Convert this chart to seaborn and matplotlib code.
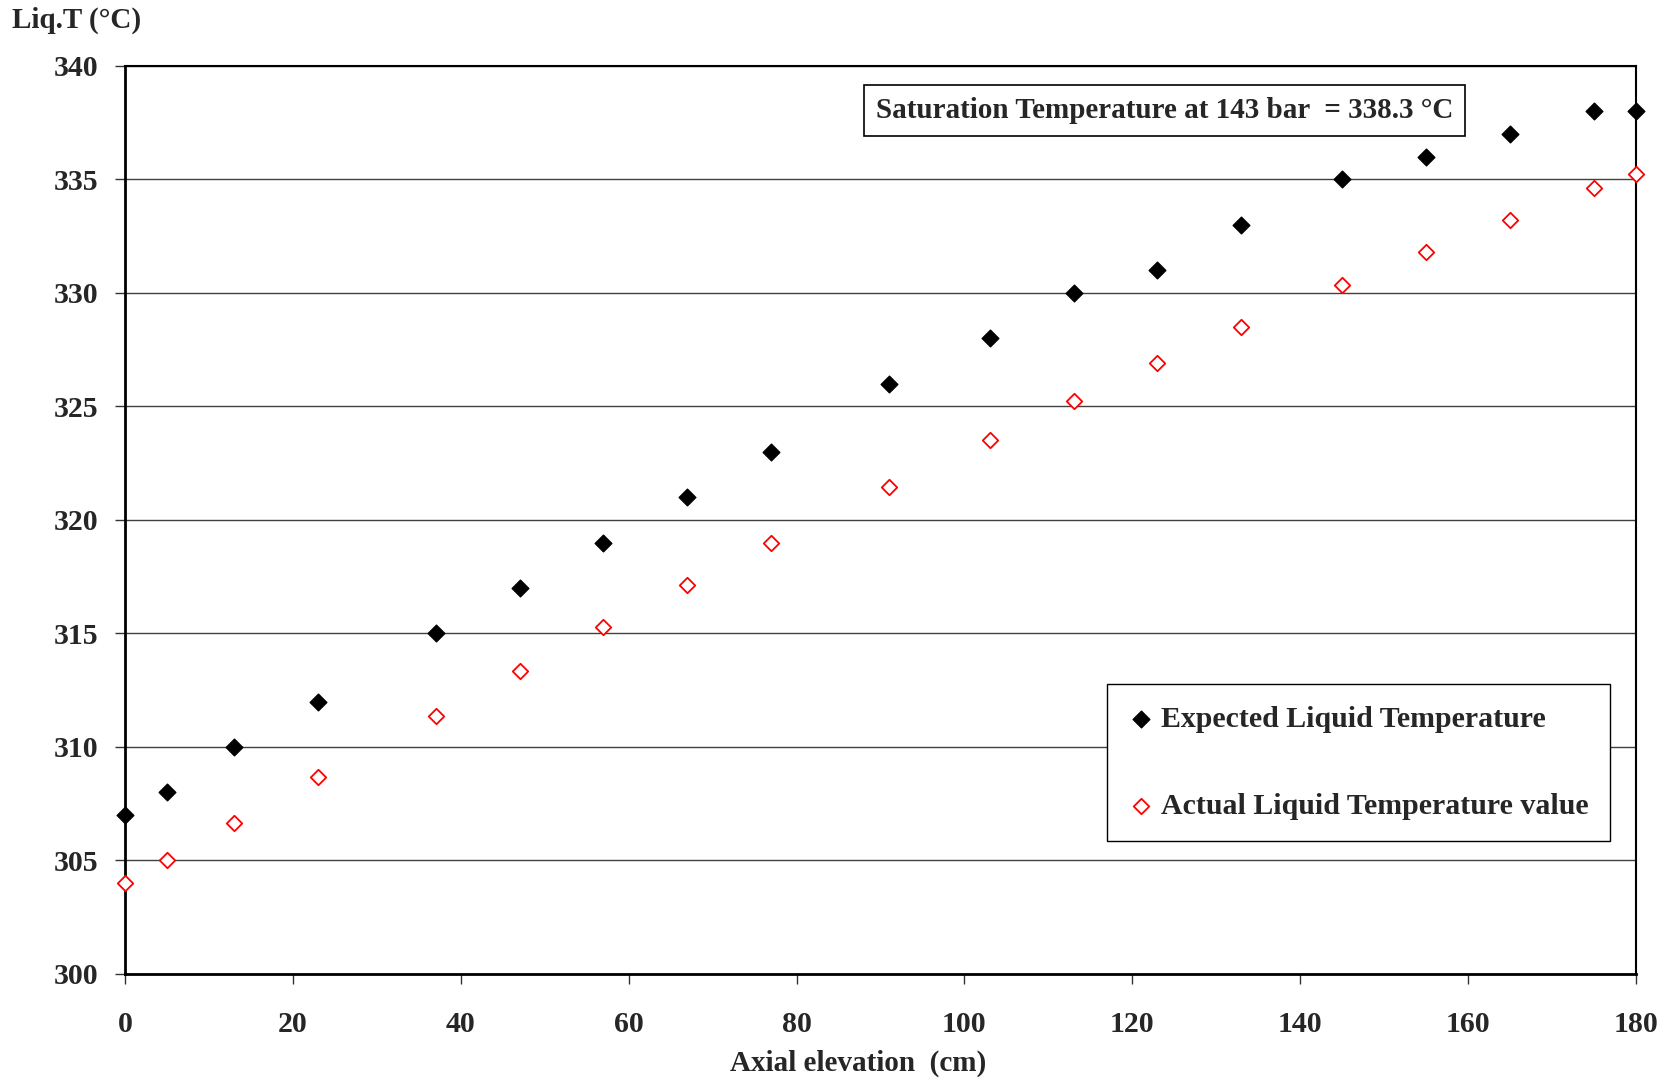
import numpy as np
import pandas as pd
import matplotlib
matplotlib.use("Agg")
import matplotlib.pyplot as plt
import seaborn as sns

elevation = [0, 5, 13, 23, 37, 47, 57, 67, 77, 91, 103, 113, 123, 133, 145, 155, 165, 175, 180]
expected_temp = [307, 308, 310, 312, 315, 317, 319, 321, 323, 326, 328, 330, 331, 333, 335, 336, 337, 338, 338]
actual_temp = [304.0, 305.0, 306.65, 308.67, 311.38, 313.35, 315.27, 317.14, 318.97, 321.45,
               323.51, 325.25, 326.93, 328.52, 330.35, 331.8, 333.21, 334.61, 335.22]
x_ticks = [0, 20, 40, 60, 80, 100, 120, 140, 160, 180]
y_ticks = [300, 305, 310, 315, 320, 325, 330, 335, 340]

sns.set_theme(style="white")
plt.rcParams['font.family'] = ['Liberation Serif', 'DejaVu Serif']
plt.rcParams['font.weight'] = 'bold'

fig = plt.figure(figsize=(16.69, 10.81), dpi=100)
ax = fig.add_axes([0.0749, 0.099, 0.9053, 0.840])

df_exp = pd.DataFrame({"x": elevation, "y": expected_temp})
df_act = pd.DataFrame({"x": elevation, "y": actual_temp})

sns.scatterplot(data=df_exp, x="x", y="y", ax=ax, marker="D", s=72, color="black",
                edgecolor="black", linewidth=1, label="Expected Liquid Temperature", zorder=3, clip_on=False)
sns.scatterplot(data=df_act, x="x", y="y", ax=ax, marker="D", s=62, facecolor="white",
                edgecolor="red", linewidth=1.3, label="Actual Liquid Temperature value", zorder=3, clip_on=False)

ax.set_xlim(0, 180)
ax.set_ylim(300, 340)
ax.set_xticks(x_ticks)
ax.set_yticks(y_ticks)
ax.set_xticklabels([str(v) for v in x_ticks], fontsize=21.5, fontweight='bold')
ax.set_yticklabels([str(v) for v in y_ticks], fontsize=21.5, fontweight='bold')
ax.tick_params(axis='both', direction='out', length=7, width=1, color='#333333',
               bottom=True, left=True)
ax.tick_params(axis='y', pad=12)
ax.tick_params(axis='x', pad=20)

ax.yaxis.grid(True, color='#404040', linewidth=1)
ax.xaxis.grid(False)
ax.set_axisbelow(True)
for side in ['left', 'bottom']:
    ax.spines[side].set_color('black')
    ax.spines[side].set_linewidth(2)
for side in ['top', 'right']:
    ax.spines[side].set_color('black')
    ax.spines[side].set_linewidth(1.5)

ax.set_xlabel("Axial elevation  (cm)", fontsize=21, fontweight='bold', labelpad=8)
ax.xaxis.set_label_coords(0.485, -0.083)
ax.set_ylabel("")
fig.text(0.007, 0.981, "Liq.T (°C)", fontsize=21, fontweight='bold', ha='left', va='center')

ax.text(0.688, 0.951, "Saturation Temperature at 143 bar  = 338.3 °C", transform=ax.transAxes,
        fontsize=21, fontweight='bold', ha='center', va='center',
        bbox=dict(boxstyle='square,pad=0.4', facecolor='white', edgecolor='black', linewidth=1.2))

leg = ax.legend(loc='lower right', bbox_to_anchor=(0.983, 0.1464), fontsize=21.5, frameon=True,
                fancybox=False, edgecolor='black', framealpha=1, labelspacing=2.0,
                handletextpad=0.28, borderpad=0.72, handlelength=0.8, borderaxespad=0)
leg.get_frame().set_linewidth(1)
for t in leg.get_texts():
    t.set_fontweight('bold')

fig.savefig("out.png", dpi=100)
